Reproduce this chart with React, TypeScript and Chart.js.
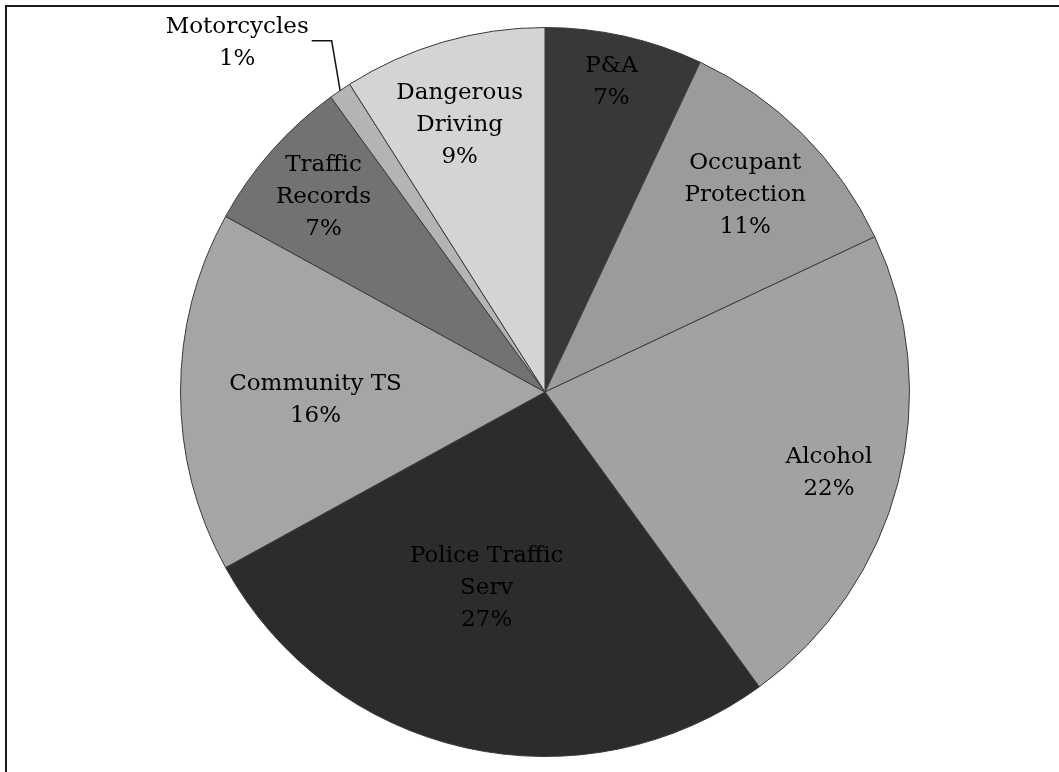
import React, { useEffect, useRef } from "react";
import { Chart, registerables } from "chart.js";

Chart.register(...registerables);

// ---- data ----
const categories: string[] = [
  "P&A",
  "Occupant Protection",
  "Alcohol",
  "Police Traffic Serv",
  "Community TS",
  "Traffic Records",
  "Motorcycles",
  "Dangerous Driving",
];
const shares: number[] = [7, 11, 22, 27, 16, 7, 1, 9];
const percentLabels: string[] = ["7%", "11%", "22%", "27%", "16%", "7%", "1%", "9%"];
// how each category name wraps inside its label
const nameLines: string[][] = [
  ["P&A"],
  ["Occupant", "Protection"],
  ["Alcohol"],
  ["Police Traffic", "Serv"],
  ["Community TS"],
  ["Traffic", "Records"],
  ["Motorcycles"],
  ["Dangerous", "Driving"],
];

// ---- style ----
const sliceColors = ["#383838", "#9b9b9b", "#a2a2a2", "#2c2c2c", "#a5a5a5", "#727272", "#b4b4b4", "#d4d4d4"];
const labelRadius = [0.87, 0.77, 0.81, 0.56, 0.63, 0.81, 1.277, 0.77];
const labelAngleShift = [-0.5, 0.5, 1.5, 4, -2, 0, -7.2, -1.5];
const FONT = '23px "DejaVu Serif", serif';
const LINE_H = 32;

const labelPlugin = {
  id: "pieLabels",
  afterDatasetsDraw(chart: any) {
    const ctx = chart.ctx;
    const meta = chart.getDatasetMeta(0);
    ctx.save();
    ctx.font = FONT;
    ctx.fillStyle = "#000";
    ctx.textAlign = "center";
    ctx.textBaseline = "middle";
    meta.data.forEach((arc: any, i: number) => {
      const p = arc.getProps(["x", "y", "startAngle", "endAngle", "outerRadius"], true);
      const mid = (p.startAngle + p.endAngle) / 2;
      const a = mid + (labelAngleShift[i] * Math.PI) / 180;
      const r = p.outerRadius * labelRadius[i];
      const cx = p.x + Math.cos(a) * r;
      const cy = p.y + Math.sin(a) * r;
      const lines = [...nameLines[i], percentLabels[i]];
      const top = cy - ((lines.length - 1) * LINE_H) / 2;
      lines.forEach((t, k) => ctx.fillText(t, cx, top + k * LINE_H));
      if (labelRadius[i] > 1) {
        // leader line from the label to the slice edge
        const w = ctx.measureText(lines[0]).width;
        const sx = cx + w / 2 + 3;
        const sy = top + 14;
        const ex = p.x + Math.cos(mid) * p.outerRadius;
        const ey = p.y + Math.sin(mid) * p.outerRadius;
        ctx.strokeStyle = "#111";
        ctx.lineWidth = 1.5;
        ctx.beginPath();
        ctx.moveTo(sx, sy);
        ctx.lineTo(sx + 20, sy);
        ctx.lineTo(ex, ey);
        ctx.stroke();
      }
    });
    ctx.restore();
  },
};

export default function App() {
  const ref = useRef<HTMLCanvasElement | null>(null);
  useEffect(() => {
    document.body.style.margin = "0";
    const chart = new Chart(ref.current as HTMLCanvasElement, {
      type: "pie",
      data: {
        labels: categories,
        datasets: [
          {
            data: shares,
            backgroundColor: sliceColors,
            borderColor: "#3a3a3a",
            borderWidth: 1,
          },
        ],
      },
      options: {
        animation: false,
        responsive: false,
        layout: { padding: { top: 27, bottom: 15, left: 180, right: 149 } },
        plugins: { legend: { display: false }, tooltip: { enabled: false } },
      },
      plugins: [labelPlugin],
    });
    return () => chart.destroy();
  }, []);
  return (
    <div style={{ position: "relative", width: 1059, height: 772, background: "#fff" }}>
      <div
        style={{
          position: "absolute",
          left: 5,
          top: 5,
          width: 1054,
          height: 767,
          borderTop: "2px solid #1a1a1a",
          borderLeft: "2px solid #1a1a1a",
          boxSizing: "border-box",
        }}
      />
      <canvas ref={ref} width={1059} height={772} style={{ position: "absolute", left: 0, top: 0 }} />
    </div>
  );
}
